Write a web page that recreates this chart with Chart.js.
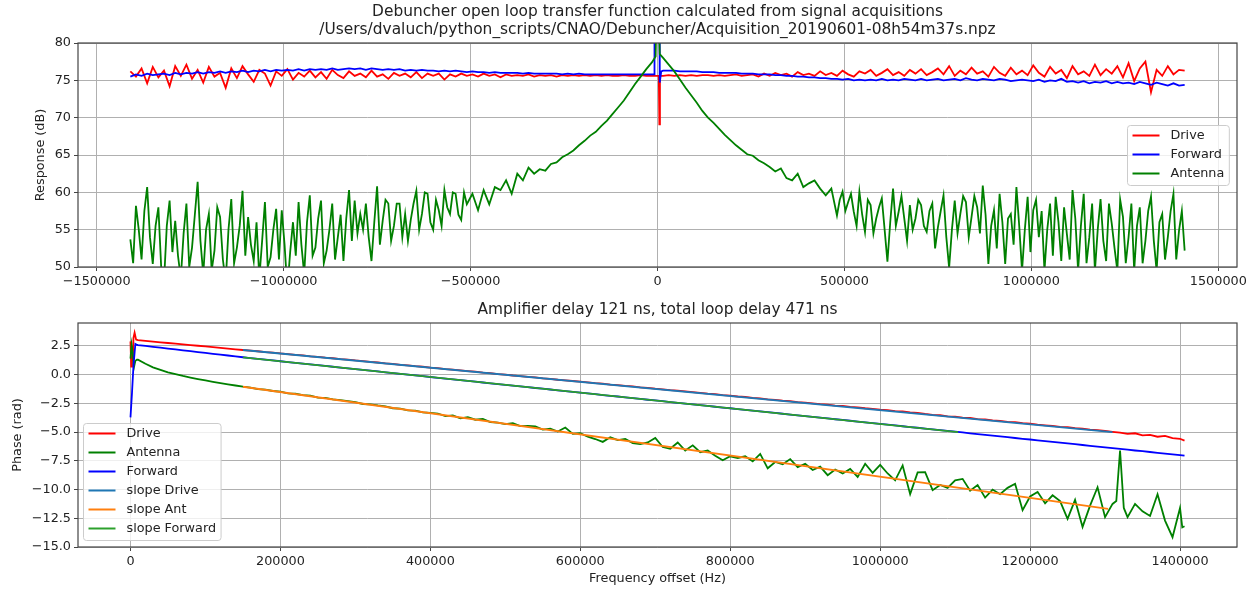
<!DOCTYPE html>
<html>
<head>
<meta charset="utf-8">
<script src="https://cdn.jsdelivr.net/npm/chart.js@4.4.0/dist/chart.umd.min.js"></script>
<style>
  html, body { margin: 0; padding: 0; background: #fff; }
  #wrap { position: relative; width: 1257px; height: 591px; }
  canvas { position: absolute; left: 0; }
  #respChart { top: 0; }
  #phaseChart { top: 295px; }
</style>
</head>
<body>
<div id="wrap">
  <canvas id="respChart" width="1257" height="295"></canvas>
  <canvas id="phaseChart" width="1257" height="296"></canvas>
</div>
<script>
Chart.defaults.font.family = "'DejaVu Sans', sans-serif";
Chart.defaults.font.size = 12.8;
Chart.defaults.color = '#222';

// ---- top plot: response (dB) on a 15 kHz grid from -1.41 MHz to +1.41 MHz
const RESP_START = -1410000;
const RESP_STEP = 15000;
const respTicksHz = [-1500000, -1000000, -500000, 0, 500000, 1000000, 1500000];

const respDrive = [
  76.2, 75.5, 76.6, 74.6, 76.8, 75.4, 76.3, 74.2, 76.9, 75.6,
  77.1, 75.2, 76.4, 74.7, 76.8, 75.5, 76.0, 74.0, 76.6, 75.3,
  76.9, 75.8, 74.8, 76.4, 75.9, 74.3, 76.2, 75.6, 76.5, 75.1,
  76.0, 75.5, 76.3, 75.4, 76.1, 75.2, 76.4, 75.7, 75.3, 76.2,
  75.6, 75.9, 75.4, 76.3, 75.5, 75.8, 75.2, 76.0, 75.6, 75.9,
  75.4, 76.1, 75.3, 75.9, 75.6, 75.9, 75.1, 75.8, 75.5, 75.9,
  75.6, 75.8, 75.5, 75.9, 75.6, 75.8, 75.4, 75.8, 75.6, 75.7,
  75.6, 75.8, 75.5, 75.7, 75.6, 75.7, 75.5, 75.7, 75.6, 75.7,
  75.6, 75.7, 75.6, 75.7, 75.6, 75.7, 75.6, 75.6, 75.7, 75.6,
  75.6, 75.7, 75.6, 75.6, 75.6, 75.6, 75.7, 75.6, 75.7, 75.6,
  75.7, 75.6, 75.7, 75.7, 75.6, 75.7, 75.6, 75.7, 75.8, 75.6,
  75.7, 75.8, 75.5, 75.9, 75.6, 76.0, 75.7, 75.9, 75.5, 76.1,
  75.7, 75.9, 75.6, 76.2, 75.7, 76.0, 75.6, 76.3, 75.8, 75.5,
  76.2, 75.9, 76.4, 75.6, 76.0, 76.5, 75.7, 76.1, 75.6, 76.4,
  75.9, 76.5, 75.7, 76.1, 76.6, 75.8, 76.9, 75.6, 76.3, 75.8,
  76.7, 75.9, 76.2, 75.5, 76.8, 76.0, 75.6, 76.7, 75.8, 76.3,
  75.7, 77.0, 76.0, 75.5, 76.8, 75.9, 76.4, 75.3, 76.9, 75.8,
  76.2, 75.6, 77.1, 75.7, 76.5, 75.9, 76.9, 75.4, 77.3, 74.9,
  76.6, 77.5, 73.4, 76.4, 75.6, 76.9, 75.8, 76.4, 76.3
];

const respForward = [
  75.5, 75.8, 75.6, 75.9, 75.7, 75.8, 75.9, 75.7, 76.0, 75.8,
  76.0, 75.9, 76.1, 75.9, 76.1, 76.0, 76.2, 76.0, 76.2, 76.1,
  76.3, 76.1, 76.3, 76.2, 76.4, 76.2, 76.4, 76.3, 76.4, 76.3,
  76.5, 76.3, 76.5, 76.4, 76.5, 76.4, 76.6, 76.4, 76.5, 76.6,
  76.5, 76.6, 76.4, 76.6, 76.5, 76.4, 76.5, 76.4, 76.5, 76.3,
  76.4, 76.3, 76.4, 76.3, 76.3, 76.2, 76.3, 76.2, 76.3, 76.2,
  76.1, 76.2, 76.1, 76.1, 76.0, 76.1, 76.0, 76.0, 76.0, 76.0,
  75.9, 76.0, 75.9, 75.9, 75.9, 75.9, 75.9, 75.8, 75.9, 75.8,
  75.9, 75.8, 75.8, 75.8, 75.8, 75.8, 75.8, 75.8, 75.8, 75.8,
  75.8, 75.8, 75.8, 75.8, 84.0, 76.3, 76.3, 76.3, 76.2, 76.2,
  76.2, 76.2, 76.1, 76.1, 76.1, 76.0, 76.0, 76.0, 76.0, 75.9,
  75.9, 75.9, 75.8, 75.8, 75.8, 75.7, 75.7, 75.6, 75.6, 75.5,
  75.5, 75.4, 75.4, 75.3, 75.3, 75.2, 75.2, 75.1, 75.2, 75.0,
  75.1, 75.0, 75.1, 75.0, 75.2, 75.0, 75.1, 75.0, 75.2, 75.1,
  75.0, 75.2, 75.0, 75.1, 75.2, 75.0, 75.1, 75.2, 75.0, 75.3,
  75.1, 75.0, 75.2, 75.1, 75.0, 75.2, 75.1, 74.9, 75.0, 75.1,
  75.0, 74.9, 75.1, 74.8, 75.0, 74.9, 75.2, 74.8, 74.9, 74.7,
  74.9, 74.6, 74.8, 74.7, 74.9, 74.6, 74.8, 74.6, 74.7, 74.5,
  74.8, 74.6, 74.4, 74.7, 74.5, 74.3, 74.6, 74.3, 74.4
];

const respAntenna = [
  53.7, 58.2, 51.0, 60.7, 50.4, 58.0, 48.0, 58.9, 56.2, 48.5,
  58.5, 52.6, 61.4, 49.0, 57.1, 52.2, 56.7, 48.0, 59.1, 52.6,
  60.2, 56.7, 50.8, 48.5, 58.7, 51.3, 57.8, 57.6, 47.0, 56.0,
  58.7, 49.0, 59.6, 52.6, 58.9, 52.2, 58.5, 54.0, 50.8, 60.3,
  58.9, 57.1, 58.5, 50.8, 60.8, 56.2, 58.5, 55.5, 58.5, 57.1,
  56.3, 60.2, 57.1, 59.8, 55.0, 57.6, 60.3, 57.1, 59.8, 56.3,
  58.4, 59.8, 57.6, 60.3, 58.4, 60.7, 60.3, 61.6, 59.8, 62.5,
  61.6, 63.3, 62.5, 63.1, 62.9, 63.8, 64.0, 64.7, 65.1, 65.6,
  66.3, 66.9, 67.6, 68.1, 68.9, 69.6, 70.5, 71.4, 72.3, 73.4,
  74.5, 75.5, 76.5, 77.4, 84.0, 78.0, 77.1, 76.2, 75.1, 74.0,
  73.0, 72.0, 70.9, 70.0, 69.3, 68.5, 67.7, 67.0, 66.3, 65.7,
  65.1, 64.9, 64.3, 63.9, 63.4, 62.8, 63.2, 61.9, 61.6, 62.5,
  60.7, 61.2, 61.6, 60.5, 59.6, 60.5, 56.9, 60.1, 58.7, 57.4,
  60.1, 54.7, 58.3, 56.5, 59.2, 50.7, 60.5, 57.4, 56.5, 58.3,
  56.5, 58.3, 54.7, 58.5, 55.3, 59.6, 49.9, 58.9, 57.1, 58.7,
  56.7, 58.0, 60.9, 50.4, 57.6, 59.8, 50.4, 57.1, 60.7, 49.5,
  59.4, 57.6, 54.0, 49.5, 58.5, 59.4, 50.8, 54.4, 60.3, 49.5,
  59.8, 54.0, 49.5, 59.1, 50.8, 55.8, 49.5, 56.7, 54.0, 49.5,
  58.0, 53.5, 59.4, 49.5, 57.1, 54.0, 59.8, 54.9, 52.2
];

// antenna samples halfway between grid points in the noisy wings
const ANT_LEFT_MID_START = -1402500;
const respAntennaLeftMid = [
  50.5, 55.0, 57.5, 54.0, 55.5, 50.0, 55.5, 52.0, 51.5, 54.5,
  50.0, 57.0, 53.5, 55.0, 49.5, 58.0, 51.0, 55.0, 50.5, 55.5,
  51.5, 53.0, 56.0, 53.5, 50.0, 55.0, 51.0, 53.0, 52.0, 51.5,
  53.0, 56.0, 51.5, 56.5, 50.5, 55.0, 51.0, 57.0, 56.5, 53.5,
  54.5, 55.0, 54.0, 56.0, 53.0, 59.0, 53.5, 58.5, 54.0, 53.5,
  58.5, 55.0, 60.0, 56.0, 59.0, 55.5, 58.0, 60.0, 57.0, 60.0
];
const ANT_RIGHT_MID_START = 487500;
const respAntennaRightMid = [
  59.0, 57.5, 59.8, 55.5, 57.0, 59.0, 54.5, 58.0, 55.0, 56.0,
  55.5, 59.5, 53.5, 55.0, 59.0, 55.5, 57.5, 52.5, 57.5, 54.0,
  55.0, 54.5, 59.5, 54.0, 59.5, 54.5, 57.0, 55.5, 52.5, 56.0,
  56.5, 53.0, 55.5, 55.0, 52.0, 59.0, 57.5, 55.0, 51.5, 56.0,
  58.0, 51.0, 56.5, 55.5, 50.5, 58.5, 55.0, 53.5, 58.5, 52.5,
  59.0, 50.5, 58.5, 55.5, 50.5, 57.5, 53.5, 56.0, 51.0, 57.5,
  51.0, 57.5
];

// narrow features right at the carrier (0 Hz)
const centerDriveHz = [3500, 5000, 6500];
const centerDrive = [75.6, 69.1, 75.6];
const centerForwardHz = [-9000, -8000, 5000, 6000, 10000];
const centerForward = [75.8, 84.0, 84.0, 74.7, 76.2];
const centerAntennaHz = [-5000, -3000, 3000, 6000];
const centerAntenna = [78.2, 84.0, 84.0, 78.5];

// ---- bottom plot: phase (rad) on a 10 kHz grid from 10 kHz to 1.40 MHz
const PHASE_START = 10000;
const PHASE_STEP = 10000;
const phaseTicksHz = [0, 200000, 400000, 600000, 800000, 1000000, 1200000, 1400000];

const phaseDrive = [
  3.00, 2.94, 2.88, 2.82, 2.76, 2.70, 2.64, 2.58, 2.52, 2.46,
  2.40, 2.33, 2.27, 2.21, 2.15, 2.10, 2.04, 1.97, 1.93, 1.85,
  1.79, 1.73, 1.68, 1.60, 1.55, 1.48, 1.43, 1.36, 1.31, 1.24,
  1.19, 1.11, 1.06, 0.99, 0.94, 0.86, 0.82, 0.74, 0.69, 0.61,
  0.57, 0.49, 0.44, 0.37, 0.31, 0.26, 0.18, 0.13, 0.05, 0.01,
  -0.07, -0.12, -0.19, -0.24, -0.32, -0.36, -0.44, -0.49, -0.55, -0.61,
  -0.66, -0.74, -0.78, -0.86, -0.90, -0.98, -1.02, -1.10, -1.14, -1.22,
  -1.27, -1.34, -1.39, -1.46, -1.52, -1.58, -1.65, -1.70, -1.78, -1.82,
  -1.90, -1.94, -2.02, -2.06, -2.14, -2.19, -2.26, -2.30, -2.38, -2.43,
  -2.50, -2.57, -2.61, -2.69, -2.72, -2.81, -2.85, -2.92, -2.97, -3.05,
  -3.09, -3.17, -3.20, -3.29, -3.33, -3.42, -3.49, -3.53, -3.62, -3.65,
  -3.74, -3.77, -3.86, -3.90, -3.97, -4.02, -4.10, -4.13, -4.22, -4.26,
  -4.35, -4.41, -4.46, -4.54, -4.57, -4.66, -4.70, -4.78, -4.82, -4.90,
  -4.97, -5.05, -5.16, -5.10, -5.28, -5.24, -5.40, -5.33, -5.52, -5.58
];

const phaseForward = [
  2.57, 2.50, 2.42, 2.35, 2.27, 2.20, 2.12, 2.05, 1.97, 1.90,
  1.82, 1.74, 1.67, 1.59, 1.52, 1.45, 1.38, 1.31, 1.24, 1.17,
  1.10, 1.03, 0.96, 0.90, 0.83, 0.76, 0.69, 0.62, 0.55, 0.49,
  0.42, 0.35, 0.28, 0.21, 0.14, 0.07, 0.00, -0.06, -0.13, -0.20,
  -0.27, -0.34, -0.40, -0.47, -0.54, -0.61, -0.68, -0.75, -0.82, -0.88,
  -0.95, -1.02, -1.09, -1.16, -1.22, -1.29, -1.36, -1.43, -1.50, -1.56,
  -1.63, -1.70, -1.77, -1.84, -1.90, -1.97, -2.04, -2.11, -2.18, -2.24,
  -2.31, -2.38, -2.45, -2.52, -2.58, -2.65, -2.72, -2.79, -2.86, -2.92,
  -2.99, -3.06, -3.13, -3.20, -3.26, -3.33, -3.40, -3.47, -3.54, -3.60,
  -3.67, -3.74, -3.81, -3.88, -3.94, -4.01, -4.08, -4.15, -4.22, -4.28,
  -4.35, -4.42, -4.49, -4.56, -4.62, -4.69, -4.76, -4.83, -4.90, -4.96,
  -5.03, -5.10, -5.17, -5.24, -5.30, -5.37, -5.44, -5.51, -5.58, -5.64,
  -5.71, -5.78, -5.85, -5.92, -5.98, -6.05, -6.12, -6.19, -6.26, -6.32,
  -6.39, -6.46, -6.53, -6.60, -6.66, -6.73, -6.80, -6.87, -6.94, -7.00
];

const phaseAntenna = [
  1.30, 0.95, 0.64, 0.42, 0.21, 0.05, -0.11, -0.25, -0.38, -0.50,
  -0.62, -0.73, -0.84, -0.94, -1.04, -1.12, -1.25, -1.30, -1.42, -1.48,
  -1.62, -1.66, -1.78, -1.83, -1.99, -2.02, -2.14, -2.22, -2.30, -2.38,
  -2.55, -2.58, -2.68, -2.75, -2.92, -2.95, -3.10, -3.12, -3.28, -3.33,
  -3.38, -3.60, -3.55, -3.80, -3.70, -3.92, -3.86, -4.12, -4.18, -4.30,
  -4.22, -4.48, -4.45, -4.50, -4.78, -4.70, -4.95, -4.60, -5.15, -5.10,
  -5.40, -5.60, -5.85, -5.45, -5.70, -5.60, -5.95, -6.05, -5.90, -5.50,
  -6.30, -6.45, -5.90, -6.60, -6.15, -6.75, -6.60, -7.05, -7.45, -7.10,
  -7.25, -7.10, -7.55, -6.90, -8.15, -7.60, -7.80, -7.35, -8.05, -7.75,
  -8.30, -8.00, -8.75, -8.25, -8.60, -8.20, -8.90, -7.75, -8.55, -7.85,
  -8.60, -9.20, -7.90, -10.40, -8.50, -8.49, -10.05, -9.60, -9.85, -9.20,
  -9.07, -10.10, -9.60, -10.70, -10.00, -10.40, -9.85, -9.50, -11.80, -10.60,
  -10.20, -11.20, -10.50, -11.00, -12.55, -10.90, -13.25, -11.40, -9.80, -12.40,
  -11.25, -6.60, -12.40, -11.25, -11.90, -12.30, -10.40, -12.70, -14.15, -11.60
];

// first few kHz (the wrap-around at 0 Hz) and the points after the grid
const startDriveHz = [0, 1000, 2000, 3000, 4000, 5500, 7500];
const startDrive = [2.90, 0.70, 2.50, 1.20, 3.20, 3.65, 3.05];
const startForwardHz = [0, 2000, 4000, 6500, 8000];
const startForward = [-3.72, -1.60, 0.80, 2.68, 2.62];
const startAntennaHz = [0, 1500, 3000, 4500, 6500, 8500];
const startAntenna = [1.40, 2.60, 1.90, 0.60, 1.20, 1.30];
const extraDriveHz = [1406000];
const extraDrive = [-5.74];
const extraForwardHz = [1406000];
const extraForward = [-7.05];
const extraAntennaHz = [1315000, 1325000, 1403000, 1406000];
const extraAntenna = [-11.0, -11.6, -13.3, -13.2];

// fitted slopes
const slopeDriveHz = [150000, 1310000];
const slopeDrive = [2.15, -5.00];
const slopeAntHz = [150000, 1304000];
const slopeAnt = [-1.05, -11.68];
const slopeForwardHz = [150000, 1104000];
const slopeForward = [1.51, -5.00];

function grid(start, step, values) {
    return values.map((v, i) => ({ x: start + i * step, y: v }));
}
function pairs(xs, ys) {
    return xs.map((x, i) => ({ x: x, y: ys[i] }));
}
function merged(...parts) {
    return parts.flat().sort((a, b) => a.x - b.x);
}
function fmtInt(v) {
    return v < 0 ? '\u2212' + Math.abs(v) : String(v);
}
function fmtDec(v) {
    return (v < 0 ? '\u2212' : '') + Math.abs(v).toFixed(1);
}
function lineSet(label, color, data, idx) {
    return {
        label: label,
        data: data,
        borderColor: color,
        backgroundColor: color,
        borderWidth: 1.8,
        pointRadius: 0,
        tension: 0,
        fill: false,
        order: -idx
    };
}

// axes frame drawn over the data, like matplotlib spines
const framePlugin = {
    id: 'frame',
    afterDatasetsDraw(chart) {
        const { ctx, chartArea } = chart;
        ctx.save();
        ctx.strokeStyle = '#444';
        ctx.lineWidth = 1.2;
        ctx.strokeRect(chartArea.left, chartArea.top,
            chartArea.right - chartArea.left, chartArea.bottom - chartArea.top);
        ctx.restore();
    }
};

// legend box inside the plot area
const boxLegend = {
    id: 'boxLegend',
    afterDatasetsDraw(chart, args, opts) {
        const { ctx, chartArea } = chart;
        const sets = chart.data.datasets;
        ctx.save();
        ctx.font = "12.8px 'DejaVu Sans'";
        const textW = Math.max(...sets.map(d => ctx.measureText(d.label).width));
        const w = 43 + textW + 5;
        const h = 19 * sets.length + 3;
        let left, top;
        if (opts.corner === 'right') {
            left = chartArea.right - 8 - w;
            top = (chartArea.top + chartArea.bottom) / 2 - h / 2;
        } else {
            left = chartArea.left + 5;
            top = chartArea.bottom - 7 - h;
        }
        left = Math.round(left) + 0.5;
        top = Math.round(top) + 0.5;
        ctx.beginPath();
        if (ctx.roundRect) ctx.roundRect(left, top, w, h, 3);
        else ctx.rect(left, top, w, h);
        ctx.fillStyle = 'rgba(255,255,255,0.8)';
        ctx.fill();
        ctx.strokeStyle = '#cccccc';
        ctx.lineWidth = 1;
        ctx.stroke();
        sets.forEach((d, k) => {
            const y = top + 10 + 19 * k;
            ctx.strokeStyle = d.borderColor;
            ctx.lineWidth = 2;
            ctx.beginPath();
            ctx.moveTo(left + 5, y);
            ctx.lineTo(left + 32, y);
            ctx.stroke();
            ctx.fillStyle = '#222';
            ctx.textBaseline = 'middle';
            ctx.textAlign = 'left';
            ctx.fillText(d.label, left + 43, y);
        });
        ctx.restore();
    }
};

const gridStyle = { color: '#b0b0b0', lineWidth: 1, tickColor: '#444', tickLength: 4 };

new Chart(document.getElementById('respChart'), {
    type: 'line',
    data: {
        datasets: [
            lineSet('Drive', '#ff0000',
                merged(grid(RESP_START, RESP_STEP, respDrive), pairs(centerDriveHz, centerDrive)), 0),
            lineSet('Forward', '#0000ff',
                merged(grid(RESP_START, RESP_STEP, respForward), pairs(centerForwardHz, centerForward)), 1),
            lineSet('Antenna', '#008000',
                merged(grid(RESP_START, RESP_STEP, respAntenna),
                       grid(ANT_LEFT_MID_START, RESP_STEP, respAntennaLeftMid),
                       grid(ANT_RIGHT_MID_START, RESP_STEP, respAntennaRightMid),
                       pairs(centerAntennaHz, centerAntenna)), 2)
        ]
    },
    options: {
        responsive: false,
        animation: false,
        events: [],
        layout: { padding: { left: 0, right: 20, top: 0, bottom: 0 } },
        plugins: {
            legend: { display: false },
            tooltip: { enabled: false },
            title: {
                display: true,
                fullSize: false,
                text: ['Debuncher open loop transfer function calculated from signal acquisitions',
                       '/Users/dvaluch/python_scripts/CNAO/Debuncher/Acquisition_20190601-08h54m37s.npz'],
                font: { size: 15.4, weight: 'normal', lineHeight: '18px' },
                color: '#222',
                padding: { top: 3, bottom: 4 }
            },
            boxLegend: { corner: 'right' }
        },
        scales: {
            x: {
                type: 'linear',
                min: -1550000,
                max: 1550000,
                ticks: { autoSkip: false, maxRotation: 0, padding: 3, callback: fmtInt },
                afterBuildTicks: s => { s.ticks = respTicksHz.map(v => ({ value: v })); },
                grid: gridStyle,
                border: { display: false },
                afterFit: s => { s.height = 28; }
            },
            y: {
                min: 50,
                max: 80,
                ticks: { stepSize: 5, autoSkip: false, padding: 3, callback: fmtInt },
                grid: gridStyle,
                border: { display: false },
                title: { display: true, text: 'Response (dB)', padding: { top: 33, bottom: 0 } },
                afterFit: s => { s.width = 78; }
            }
        }
    },
    plugins: [framePlugin, boxLegend]
});

new Chart(document.getElementById('phaseChart'), {
    type: 'line',
    data: {
        datasets: [
            lineSet('Drive', '#ff0000',
                merged(pairs(startDriveHz, startDrive), grid(PHASE_START, PHASE_STEP, phaseDrive), pairs(extraDriveHz, extraDrive)), 0),
            lineSet('Antenna', '#008000',
                merged(pairs(startAntennaHz, startAntenna), grid(PHASE_START, PHASE_STEP, phaseAntenna), pairs(extraAntennaHz, extraAntenna)), 1),
            lineSet('Forward', '#0000ff',
                merged(pairs(startForwardHz, startForward), grid(PHASE_START, PHASE_STEP, phaseForward), pairs(extraForwardHz, extraForward)), 2),
            lineSet('slope Drive', '#1f77b4', pairs(slopeDriveHz, slopeDrive), 3),
            lineSet('slope Ant', '#ff7f0e', pairs(slopeAntHz, slopeAnt), 4),
            lineSet('slope Forward', '#2ca02c', pairs(slopeForwardHz, slopeForward), 5)
        ]
    },
    options: {
        responsive: false,
        animation: false,
        events: [],
        layout: { padding: { left: 0, right: 20, top: 0, bottom: 0 } },
        plugins: {
            legend: { display: false },
            tooltip: { enabled: false },
            title: {
                display: true,
                fullSize: false,
                text: 'Amplifier delay 121 ns, total loop delay 471 ns',
                font: { size: 15.4, weight: 'normal', lineHeight: '18px' },
                color: '#222',
                padding: { top: 6, bottom: 4 }
            },
            boxLegend: { corner: 'left' }
        },
        scales: {
            x: {
                type: 'linear',
                min: -70000,
                max: 1476000,
                ticks: { autoSkip: false, maxRotation: 0, padding: 3, callback: fmtInt },
                afterBuildTicks: s => { s.ticks = phaseTicksHz.map(v => ({ value: v })); },
                grid: gridStyle,
                border: { display: false },
                title: { display: true, text: 'Frequency offset (Hz)', padding: { top: 0, bottom: 5 } },
                afterFit: s => { s.height = 44; }
            },
            y: {
                min: -15,
                max: 4.5,
                ticks: { stepSize: 2.5, includeBounds: false, autoSkip: false, padding: 3, callback: fmtDec },
                grid: gridStyle,
                border: { display: false },
                title: { display: true, text: 'Phase (rad)', padding: { top: 10, bottom: 0 } },
                afterFit: s => { s.width = 78; }
            }
        }
    },
    plugins: [framePlugin, boxLegend]
});
</script>
</body>
</html>
